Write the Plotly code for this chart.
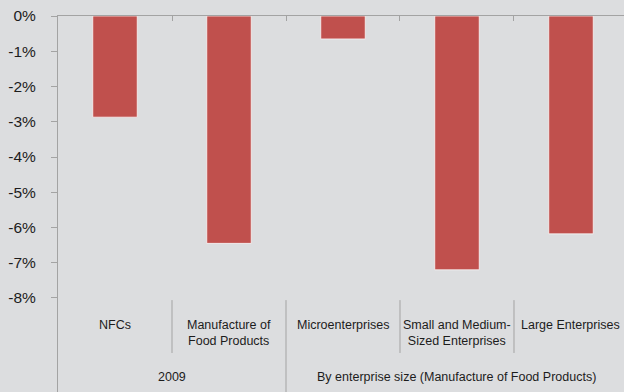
import plotly.graph_objects as go

# Data
categories = ["NFCs", "Manufacture of<br>Food Products", "Microenterprises",
              "Small and Medium-<br>Sized Enterprises", "Large Enterprises"]
values = [-2.87, -6.45, -0.65, -7.2, -6.18]
groups = ["2009", "By enterprise size (Manufacture of Food Products)"]
group_spans = [(0, 1), (2, 4)]
y_ticks = [0, -1, -2, -3, -4, -5, -6, -7, -8]
y_tick_labels = [f"{v}%" for v in y_ticks]

FONT = "Liberation Sans, Arial, sans-serif"
BG = "#dcdddf"
AXIS = "#a3a3a3"
TEXT = "#1c1c1c"

x_pos = list(range(len(categories)))

fig = go.Figure(
    go.Bar(
        x=x_pos,
        y=values,
        width=0.39,
        marker=dict(color="#c0504d", line=dict(color="rgba(255,255,255,0.7)", width=1)),
        hoverinfo="skip",
    )
)

y_min = -10.667
label_top = -8.06
label_sep_bottom = -9.56

shapes = []
# separators between categories in the label area
for i in range(len(categories) - 1):
    b = i + 0.5
    is_group_edge = any(b == s[1] + 0.5 for s in group_spans[:-1])
    shapes.append(dict(
        type="line", xref="x", yref="y",
        x0=b, x1=b, y0=label_top, y1=y_min if is_group_edge else label_sep_bottom,
        line=dict(color=AXIS, width=1),
    ))

annotations = []
for x, label in zip(x_pos, categories):
    annotations.append(dict(
        x=x, y=-8.52, xref="x", yref="y", text=label, showarrow=False,
        xanchor="center", yanchor="top", align="center",
        font=dict(family=FONT, size=12.5, color=TEXT),
    ))
for g, (a, b) in zip(groups, group_spans):
    annotations.append(dict(
        x=(a + b) / 2 if b < len(categories) - 1 else (a - 0.5 + 4.5) / 2,
        y=-10.24, xref="x", yref="y", text=g, showarrow=False,
        xanchor="center", yanchor="middle",
        font=dict(family=FONT, size=12.5, color=TEXT),
    ))

fig.update_layout(
    width=624, height=392,
    margin=dict(l=58, r=0, t=16, b=0),
    paper_bgcolor=BG, plot_bgcolor=BG,
    showlegend=False,
    shapes=shapes,
    annotations=annotations,
    font=dict(family=FONT, color=TEXT),
    xaxis=dict(
        range=[-0.5, 4.465], side="top", showline=True, linecolor=AXIS, linewidth=1,
        showgrid=False, zeroline=False, showticklabels=False,
        tickmode="array", tickvals=[0.5, 1.5, 2.5, 3.5],
        ticks="inside", ticklen=5, tickcolor=AXIS,
    ),
    yaxis=dict(
        range=[y_min, 0], showline=True, linecolor=AXIS, linewidth=1,
        showgrid=False, zeroline=False,
        tickmode="array", tickvals=y_ticks, ticktext=y_tick_labels,
        ticks="outside", ticklen=6, tickcolor=AXIS,
        ticklabelstandoff=12,
        tickfont=dict(family=FONT, size=15.5, color=TEXT),
    ),
)

fig.write_html("out.html")
